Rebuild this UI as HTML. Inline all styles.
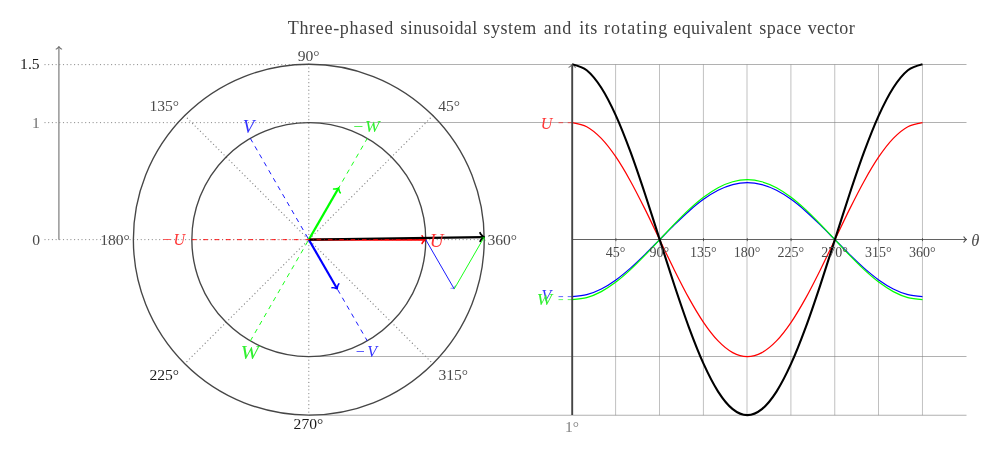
<!DOCTYPE html>
<html><head><meta charset="utf-8"><title>Three-phased sinusoidal system</title>
<style>
html,body{margin:0;padding:0;background:#fff;}
body{width:1000px;height:452px;overflow:hidden;font-family:"Liberation Serif",serif;}
svg{display:block;will-change:transform;}
</style></head><body>
<svg width="1000" height="452" viewBox="0 0 1000 452">
<rect width="1000" height="452" fill="#fff"/>
<g stroke="#808080" stroke-width="0.62" fill="none">
<line x1="308.8" y1="64.5" x2="966.5" y2="64.5"/>
<line x1="308.8" y1="122.5" x2="966.5" y2="122.5"/>
<line x1="308.8" y1="356.5" x2="966.5" y2="356.5"/>
<line x1="308.8" y1="415.25" x2="966.5" y2="415.25"/>
<line x1="615.6" y1="64.5" x2="615.6" y2="415.25" stroke-width="0.5"/>
<line x1="659.5" y1="64.5" x2="659.5" y2="415.25" stroke-width="0.5"/>
<line x1="703.4" y1="64.5" x2="703.4" y2="415.25" stroke-width="0.5"/>
<line x1="747" y1="64.5" x2="747" y2="415.25" stroke-width="0.5"/>
<line x1="790.9" y1="64.5" x2="790.9" y2="415.25" stroke-width="0.5"/>
<line x1="834.75" y1="64.5" x2="834.75" y2="415.25" stroke-width="0.5"/>
<line x1="878.5" y1="64.5" x2="878.5" y2="415.25" stroke-width="0.5"/>
<line x1="922.45" y1="64.5" x2="922.45" y2="415.25" stroke-width="0.5"/>
</g>
<g stroke="#8a8a8a" stroke-width="1.25" fill="none" stroke-linecap="round" stroke-dasharray="0.01 3.69">
<line x1="45" y1="64.5" x2="308.8" y2="64.5"/>
<line x1="45" y1="122.5" x2="308.8" y2="122.5"/>
<line x1="45" y1="239.5" x2="484.23" y2="239.5"/>
<line x1="308.8" y1="64.22" x2="308.8" y2="415.08"/>
<line x1="432.84" y1="115.61" x2="184.76" y2="363.69"/>
<line x1="184.76" y1="115.61" x2="432.84" y2="363.69"/>
</g>
<line x1="58.9" y1="239.65" x2="58.9" y2="47.12" stroke="#808080" stroke-width="1.25" /><path d="M56.16 49.07 C57.19 48.9 58.73 47.01 58.9 46.5 C59.07 47.01 60.61 48.9 61.64 49.07" fill="none" stroke="#707070" stroke-width="1.1" stroke-linecap="round" stroke-linejoin="round"/>
<circle cx="308.8" cy="239.65" r="116.95" fill="none" stroke="#464646" stroke-width="1.35"/>
<circle cx="308.8" cy="239.65" r="175.43" fill="none" stroke="#464646" stroke-width="1.35"/>
<line x1="250.33" y1="138.37" x2="367.28" y2="340.93" stroke="#00f" stroke-width="0.9" stroke-dasharray="4.6 4.6"/>
<line x1="250.32" y1="340.93" x2="367.28" y2="138.37" stroke="#0f0" stroke-width="0.9" stroke-dasharray="4.6 4.6"/>
<line x1="308.8" y1="239.65" x2="424.66" y2="239.65" stroke="#f00" stroke-width="2.15" /><path d="M422.04 235.71 C422.29 237.19 425 239.4 425.74 239.65 C425 239.9 422.29 242.11 422.04 243.59" fill="none" stroke="#f00" stroke-width="1.48" stroke-linecap="round" stroke-linejoin="round"/>
<line x1="308.8" y1="239.65" x2="336.75" y2="288.05" stroke="#00f" stroke-width="2.15" /><path d="M338.85 283.82 C337.69 284.77 337.13 288.22 337.28 288.98 C336.7 288.47 333.43 287.23 332.02 287.76" fill="none" stroke="#00f" stroke-width="1.48" stroke-linecap="round" stroke-linejoin="round"/>
<line x1="308.8" y1="239.65" x2="338.25" y2="188.64" stroke="#0f0" stroke-width="2.15" /><path d="M333.53 188.94 C334.93 189.47 338.2 188.23 338.79 187.71 C338.63 188.48 339.19 191.93 340.35 192.88" fill="none" stroke="#0f0" stroke-width="1.48" stroke-linecap="round" stroke-linejoin="round"/>
<line x1="308.8" y1="239.65" x2="483.06" y2="237.06" stroke="#000" stroke-width="2.3" /><path d="M480.05 232.75 C480.35 234.38 483.38 236.79 484.21 237.05 C483.39 237.33 480.43 239.83 480.18 241.47" fill="none" stroke="#000" stroke-width="1.76" stroke-linecap="round" stroke-linejoin="round"/>
<line x1="425.74" y1="239.65" x2="454" y2="288.59" stroke="#00f" stroke-width="0.9" /><path d="M455.2 285.75 C454.48 286.35 454.12 288.51 454.22 288.98 C453.86 288.66 451.81 287.89 450.93 288.22" fill="none" stroke="#00f" stroke-width="0.5" stroke-linecap="round" stroke-linejoin="round"/>
<line x1="454.22" y1="288.98" x2="483.98" y2="237.44" stroke="#0f0" stroke-width="0.9" /><path d="M480.92 237.82 C481.79 238.14 483.84 237.37 484.21 237.05 C484.11 237.52 484.46 239.68 485.18 240.28" fill="none" stroke="#0f0" stroke-width="0.5" stroke-linecap="round" stroke-linejoin="round"/>
<line x1="191.85" y1="239.65" x2="425.75" y2="239.65" stroke="#f00" stroke-width="0.9" stroke-dasharray="4.6 3.06 0.62 3.06"/>
<line x1="572.1" y1="239.5" x2="966" y2="239.5" stroke="#626262" stroke-width="1" /><path d="M963.93 236.76 C964.1 237.79 965.99 239.33 966.5 239.5 C965.99 239.67 964.1 241.21 963.93 242.24" fill="none" stroke="#484848" stroke-width="1.1" stroke-linecap="round" stroke-linejoin="round"/>
<g stroke="#404040" stroke-width="0.8">
<line x1="615.9" y1="238.15" x2="615.9" y2="241.15"/>
<line x1="659.7" y1="238.15" x2="659.7" y2="241.15"/>
<line x1="703.5" y1="238.15" x2="703.5" y2="241.15"/>
<line x1="747.3" y1="238.15" x2="747.3" y2="241.15"/>
<line x1="791.1" y1="238.15" x2="791.1" y2="241.15"/>
<line x1="834.9" y1="238.15" x2="834.9" y2="241.15"/>
<line x1="878.7" y1="238.15" x2="878.7" y2="241.15"/>
<line x1="922.5" y1="238.15" x2="922.5" y2="241.15"/>
</g>
<line x1="558.5" y1="122.71" x2="572.1" y2="122.71" stroke="#f00" stroke-width="0.62" stroke-dasharray="4.6 4.6"/>
<line x1="558.5" y1="296.62" x2="572.1" y2="296.62" stroke="#00f" stroke-width="0.62" stroke-dasharray="4.6 4.6"/>
<line x1="558.5" y1="299.62" x2="572.1" y2="299.62" stroke="#0f0" stroke-width="0.62" stroke-dasharray="4.6 4.6"/>
<path d="M572.1 122.71C572.1 122.71 582.65 124.52 586.7 126.7C590.75 128.87 597.25 134.18 601.3 138.38C605.35 142.58 611.85 151.02 615.9 156.96C619.95 162.9 626.45 173.91 630.5 181.18C634.55 188.45 641.05 201.27 645.1 209.38C649.15 217.5 655.65 231.25 659.7 239.65C663.75 248.05 670.25 261.8 674.3 269.92C678.35 278.03 684.85 290.85 688.9 298.12C692.95 305.39 699.45 316.4 703.5 322.34C707.55 328.28 714.05 336.72 718.1 340.92C722.15 345.12 728.65 350.43 732.7 352.6C736.75 354.78 743.25 356.59 747.3 356.59C751.35 356.59 757.85 354.78 761.9 352.6C765.95 350.43 772.45 345.12 776.5 340.92C780.55 336.72 787.05 328.28 791.1 322.34C795.15 316.4 801.65 305.39 805.7 298.12C809.75 290.85 816.25 278.03 820.3 269.92C824.35 261.8 830.85 248.05 834.9 239.65C838.95 231.25 845.45 217.5 849.5 209.38C853.55 201.27 860.05 188.45 864.1 181.18C868.15 173.91 874.65 162.9 878.7 156.96C882.75 151.02 889.25 142.58 893.3 138.38C897.35 134.18 903.85 128.87 907.9 126.7C911.95 124.52 922.5 122.71 922.5 122.71" fill="none" stroke="#f00" stroke-width="1.23" stroke-linejoin="round"/>
<path d="M572.1 296.62C572.1 296.62 582.65 295.73 586.7 294.68C590.75 293.62 597.25 291.03 601.3 288.98C605.35 286.94 611.85 282.82 615.9 279.93C619.95 277.04 626.45 271.68 630.5 268.13C634.55 264.59 641.05 258.35 645.1 254.39C649.15 250.44 655.65 243.74 659.7 239.65C663.75 235.56 670.25 228.86 674.3 224.91C678.35 220.95 684.85 214.71 688.9 211.17C692.95 207.62 699.45 202.26 703.5 199.37C707.55 196.48 714.05 192.36 718.1 190.32C722.15 188.27 728.65 185.68 732.7 184.62C736.75 183.57 743.25 182.68 747.3 182.68C751.35 182.68 757.85 183.57 761.9 184.62C765.95 185.68 772.45 188.27 776.5 190.32C780.55 192.36 787.05 196.48 791.1 199.37C795.15 202.26 801.65 207.62 805.7 211.17C809.75 214.71 816.25 220.95 820.3 224.91C824.35 228.86 830.85 235.56 834.9 239.65C838.95 243.74 845.45 250.44 849.5 254.39C853.55 258.35 860.05 264.59 864.1 268.13C868.15 271.68 874.65 277.04 878.7 279.93C882.75 282.82 889.25 286.94 893.3 288.98C897.35 291.03 903.85 293.62 907.9 294.68C911.95 295.73 922.5 296.62 922.5 296.62" fill="none" stroke="#00f" stroke-width="1.23" stroke-linejoin="round"/>
<path d="M572.1 299.62C572.1 299.62 582.65 298.69 586.7 297.58C590.75 296.46 597.25 293.74 601.3 291.59C605.35 289.43 611.85 285.1 615.9 282.06C619.95 279.01 626.45 273.37 630.5 269.64C634.55 265.91 641.05 259.33 645.1 255.17C649.15 251.01 655.65 243.96 659.7 239.65C663.75 235.34 670.25 228.29 674.3 224.13C678.35 219.97 684.85 213.39 688.9 209.66C692.95 205.93 699.45 200.29 703.5 197.24C707.55 194.2 714.05 189.87 718.1 187.71C722.15 185.56 728.65 182.84 732.7 181.72C736.75 180.61 743.25 179.68 747.3 179.68C751.35 179.68 757.85 180.61 761.9 181.72C765.95 182.84 772.45 185.56 776.5 187.71C780.55 189.87 787.05 194.2 791.1 197.24C795.15 200.29 801.65 205.93 805.7 209.66C809.75 213.39 816.25 219.97 820.3 224.13C824.35 228.29 830.85 235.34 834.9 239.65C838.95 243.96 845.45 251.01 849.5 255.17C853.55 259.33 860.05 265.91 864.1 269.64C868.15 273.37 874.65 279.01 878.7 282.06C882.75 285.1 889.25 289.43 893.3 291.59C897.35 293.74 903.85 296.46 907.9 297.58C911.95 298.69 922.5 299.62 922.5 299.62" fill="none" stroke="#0f0" stroke-width="1.23" stroke-linejoin="round"/>
<path d="M572.1 64.22C572.1 64.22 582.65 66.94 586.7 70.2C590.75 73.46 597.25 81.43 601.3 87.73C605.35 94.03 611.85 106.7 615.9 115.61C619.95 124.51 626.45 141.03 630.5 151.94C634.55 162.85 641.05 182.08 645.1 194.25C649.15 206.42 655.65 227.05 659.7 239.65C663.75 252.25 670.25 272.88 674.3 285.05C678.35 297.22 684.85 316.45 688.9 327.36C692.95 338.27 699.45 354.79 703.5 363.69C707.55 372.6 714.05 385.27 718.1 391.57C722.15 397.87 728.65 405.84 732.7 409.1C736.75 412.36 743.25 415.08 747.3 415.08C751.35 415.08 757.85 412.36 761.9 409.1C765.95 405.84 772.45 397.87 776.5 391.57C780.55 385.27 787.05 372.6 791.1 363.69C795.15 354.79 801.65 338.27 805.7 327.36C809.75 316.45 816.25 297.22 820.3 285.05C824.35 272.88 830.85 252.25 834.9 239.65C838.95 227.05 845.45 206.42 849.5 194.25C853.55 182.08 860.05 162.85 864.1 151.94C868.15 141.03 874.65 124.51 878.7 115.61C882.75 106.7 889.25 94.03 893.3 87.73C897.35 81.43 903.85 73.46 907.9 70.2C911.95 66.94 922.5 64.22 922.5 64.22" fill="none" stroke="#000" stroke-width="2.1" stroke-linejoin="round"/>
<line x1="572.2" y1="415.08" x2="572.2" y2="65.17" stroke="#444444" stroke-width="1.9" /><path d="M569 67.22 C570.2 67.02 572 64.82 572.2 64.22 C572.4 64.82 574.2 67.02 575.4 67.22" fill="none" stroke="#444444" stroke-width="0.98" stroke-linecap="round" stroke-linejoin="round"/>
<g font-family="'Liberation Serif', serif" fill="#4a4a4a">
<text y="33.7" font-size="18" fill="#424242"><tspan x="287.7" textLength="105.6" lengthAdjust="spacing">Three-phased</tspan> <tspan x="400.3" textLength="77" lengthAdjust="spacing">sinusoidal</tspan> <tspan x="483.3" textLength="53" lengthAdjust="spacing">system</tspan> <tspan x="543.7" textLength="27.6" lengthAdjust="spacing">and</tspan> <tspan x="579.3" textLength="18" lengthAdjust="spacing">its</tspan> <tspan x="604.1" textLength="63.2" lengthAdjust="spacing">rotating</tspan> <tspan x="673.3" textLength="78.6" lengthAdjust="spacing">equivalent</tspan> <tspan x="759.3" textLength="42" lengthAdjust="spacing">space</tspan> <tspan x="807.7" textLength="47" lengthAdjust="spacing">vector</tspan></text>
<text x="39.6" y="69.3" font-size="15.6" text-anchor="end" fill="#1a1a1a">1.5</text>
<text x="39.9" y="127.9" font-size="15.6" text-anchor="end" fill="#707070">1</text>
<text x="40" y="245" font-size="15.6" text-anchor="end">0</text>
<text x="149.4" y="110.8" font-size="15.6" text-anchor="start">135°</text>
<text x="438.2" y="110.6" font-size="15.6" text-anchor="start">45°</text>
<text x="149.4" y="380.4" font-size="15.6" text-anchor="start" fill="#1a1a1a">225°</text>
<text x="438.4" y="380.4" font-size="15.6" text-anchor="start">315°</text>
<text x="297.7" y="61.2" font-size="15.6" text-anchor="start">90°</text>
<text x="293.6" y="429.4" font-size="15.6" text-anchor="start" fill="#1a1a1a">270°</text>
<text x="100.2" y="245.1" font-size="15.6" text-anchor="start">180°</text>
<text x="487.4" y="245.2" font-size="15.6" text-anchor="start">360°</text>
<text x="242.8" y="133.2" font-size="19" text-anchor="start" fill="#3434ff" font-style="italic">V</text>
<text transform="translate(352.2 132) scale(1.1 1)" font-size="16" text-anchor="start" fill="#30f030" font-style="italic">−<tspan dx="0.8">W</tspan></text>
<text transform="translate(240.4 359) scale(1.16 1)" font-size="19" text-anchor="start" fill="#30f030" font-style="italic">W</text>
<text x="354.8" y="357" font-size="16" text-anchor="start" fill="#3434ff" font-style="italic">−<tspan dx="1.6">V</tspan></text>
<text x="161.4" y="245" font-size="16" text-anchor="start" fill="#ff3434" font-style="italic">−<tspan dx="1.2">U</tspan></text>
<text x="429.8" y="246.6" font-size="19" text-anchor="start" fill="#ff3434" font-style="italic">U</text>
<text x="552.2" y="128.6" font-size="16" text-anchor="end" fill="#ff3434" font-style="italic">U</text>
<text x="551.2" y="301.4" font-size="16" text-anchor="end" fill="#3434ff" font-style="italic">V</text>
<text transform="translate(552 305.2) scale(1.15 1)" font-size="16" text-anchor="end" fill="#30f030" font-style="italic">W</text>
<text x="615.6" y="257.3" font-size="14" text-anchor="middle">45°</text>
<text x="659.4" y="257.3" font-size="14" text-anchor="middle">90°</text>
<text x="703.2" y="257.3" font-size="14" text-anchor="middle">135°</text>
<text x="747" y="257.3" font-size="14" text-anchor="middle">180°</text>
<text x="790.8" y="257.3" font-size="14" text-anchor="middle">225°</text>
<text x="834.6" y="257.3" font-size="14" text-anchor="middle">270°</text>
<text x="878.4" y="257.3" font-size="14" text-anchor="middle">315°</text>
<text x="922.2" y="257.3" font-size="14" text-anchor="middle">360°</text>
<text x="971.3" y="245.6" font-size="16.5" text-anchor="start" font-style="italic">θ</text>
<text x="565" y="431.6" font-size="15.6" text-anchor="start" fill="#808080">1°</text>
</g>
</svg>
</body></html>
